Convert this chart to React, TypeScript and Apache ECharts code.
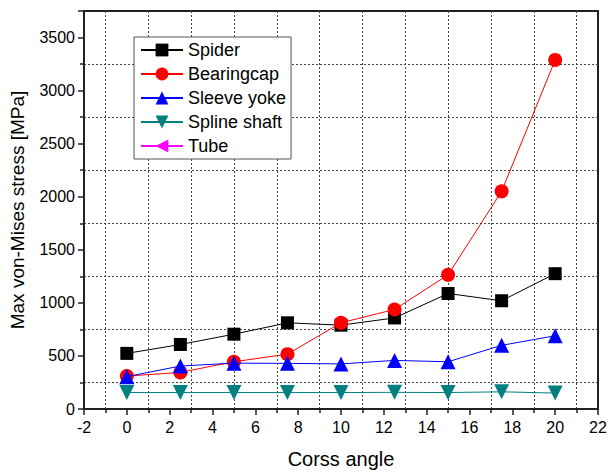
import React, { useEffect, useRef } from "react";
import * as echarts from "echarts";

const angles = [0, 2.5, 5, 7.5, 10, 12.5, 15, 17.5, 20];
const spider = [524, 608, 705, 812, 790, 858, 1088, 1020, 1275];
const bearingcap = [310, 345, 445, 517, 812, 938, 1264, 2051, 3289];
const sleeveYoke = [305, 405, 432, 430, 425, 458, 445, 600, 690];
const splineShaft = [155, 155, 155, 155, 155, 157, 155, 162, 150];
const tube: number[] = [];

const FONT = "Arial, 'Liberation Sans', sans-serif";

const pair = (ys: number[]) => ys.map((y, i) => [angles[i], y]);

export default function App() {
  const ref = useRef<HTMLDivElement>(null);
  useEffect(() => {
    if (!ref.current) return;
    const chart = echarts.init(ref.current, null, { renderer: "svg" });
    const gridLine = { show: true, lineStyle: { color: "#444", type: [2, 2] as any, width: 1 } };
    chart.setOption({
      animation: false,
      backgroundColor: "#fff",
      grid: {
        left: 84, right: 10, top: 11, bottom: 64, show: true, borderColor: "#222", borderWidth: 2,
        backgroundColor: "transparent", containLabel: false, outerBoundsMode: "none",
      },
      legend: {
        orient: "vertical",
        left: 134,
        top: 37,
        itemWidth: 42,
        itemHeight: 16,
        itemGap: 6,
        padding: [4, 5, 4, 6],
        borderColor: "#555",
        borderWidth: 1,
        backgroundColor: "#fff",
        textStyle: { fontSize: 18, lineHeight: 18, fontFamily: FONT, color: "#000", padding: [0, 0, 0, 0] },
        data: ["Spider", "Bearingcap", "Sleeve yoke", "Spline shaft", "Tube"],
      },
      xAxis: {
        type: "value",
        min: -2,
        max: 22,
        interval: 2,
        name: "Corss angle",
        nameLocation: "middle",
        nameGap: 40,
        nameTextStyle: { fontSize: 20, fontFamily: FONT, color: "#000" },
        axisLine: { show: true, onZero: false, lineStyle: { color: "#222", width: 2 } },
        axisTick: { show: true, length: 6, lineStyle: { color: "#222", width: 1.5 } },
        minorTick: { show: true, splitNumber: 2, length: 4, lineStyle: { color: "#222", width: 1.5 } },
        minorSplitLine: gridLine,
        splitLine: { show: false },
        axisLabel: { fontSize: 16, fontFamily: FONT, color: "#000", margin: 10 },
      },
      yAxis: {
        type: "value",
        min: 0,
        max: 3750,
        interval: 500,
        name: "Max von-Mises stress [MPa]",
        nameLocation: "middle",
        nameGap: 57,
        nameTextStyle: { fontSize: 19, fontFamily: FONT, color: "#000" },
        axisLine: { show: true, onZero: false, lineStyle: { color: "#222", width: 2 } },
        axisTick: { show: true, length: 6, lineStyle: { color: "#222", width: 1.5 } },
        minorTick: { show: true, splitNumber: 2, length: 4, lineStyle: { color: "#222", width: 1.5 } },
        minorSplitLine: gridLine,
        splitLine: { show: false },
        axisLabel: { fontSize: 16, fontFamily: FONT, color: "#000", margin: 9, showMaxLabel: false, formatter: (v: number) => String(v) },
      },
      series: [
        {
          name: "Spider", type: "line", data: pair(spider), symbol: "rect", symbolSize: 13,
          itemStyle: { color: "#000" }, lineStyle: { color: "#000", width: 1 }, z: 3,
        },
        {
          name: "Bearingcap", type: "line", data: pair(bearingcap), symbol: "circle", symbolSize: 14,
          itemStyle: { color: "#ff0000" }, lineStyle: { color: "#ff0000", width: 1 }, z: 4,
        },
        {
          name: "Sleeve yoke", type: "line", data: pair(sleeveYoke), symbol: "triangle", symbolSize: 15,
          itemStyle: { color: "#0000ff" }, lineStyle: { color: "#0000ff", width: 1 }, z: 5,
        },
        {
          name: "Spline shaft", type: "line", data: pair(splineShaft), symbol: "triangle", symbolRotate: 180, symbolSize: 15,
          itemStyle: { color: "#008080" }, lineStyle: { color: "#008080", width: 1 }, z: 2,
        },
        {
          name: "Tube", type: "line", data: tube, symbol: "triangle", symbolRotate: 90, symbolSize: 15,
          itemStyle: { color: "#ff00ff" }, lineStyle: { color: "#ff00ff", width: 1 },
        },
      ],
    });
    return () => chart.dispose();
  }, []);
  return <div ref={ref} style={{ width: 608, height: 473, position: "absolute", left: 0, top: 0 }} />;
}
